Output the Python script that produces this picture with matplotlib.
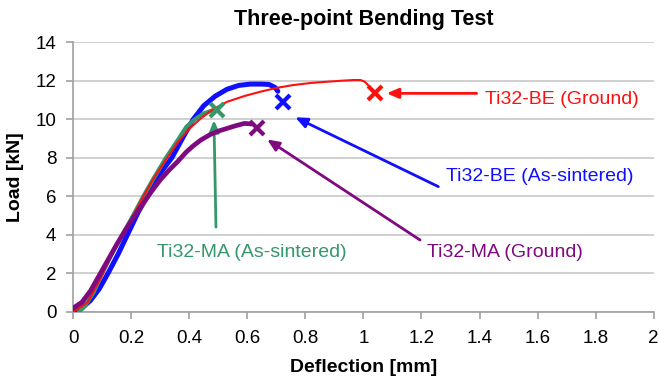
import matplotlib
matplotlib.use("Agg")
import matplotlib.pyplot as plt

plt.rcParams["font.family"] = ["Liberation Sans", "DejaVu Sans"]

# ── load / deflection curves ─────────────────────────────────────────────────
be_sint_x = [0.00, 0.03, 0.06, 0.09, 0.12, 0.155, 0.19, 0.225, 0.255, 0.29, 0.34,
             0.38, 0.414, 0.45, 0.49, 0.53, 0.57, 0.61, 0.65, 0.675, 0.695, 0.705]
be_sint_y = [0.00, 0.20, 0.60, 1.20, 2.00, 3.00, 4.10, 5.20, 6.00, 7.00, 8.00,
             9.10, 10.00, 10.70, 11.20, 11.55, 11.75, 11.82, 11.82, 11.80, 11.65, 11.45]

ma_sint_x = [0.02, 0.04, 0.07, 0.10, 0.14, 0.17, 0.21, 0.242, 0.28, 0.32, 0.36,
             0.39, 0.42, 0.45, 0.48, 0.495]
ma_sint_y = [0.00, 0.30, 1.00, 2.00, 3.20, 4.00, 5.10, 6.00, 7.00, 8.00, 8.90,
             9.60, 10.00, 10.30, 10.45, 10.50]

be_grnd_x = [0.00, 0.05, 0.10, 0.14, 0.17, 0.21, 0.242, 0.28, 0.32, 0.36, 0.40,
             0.437, 0.48, 0.53, 0.59, 0.644, 0.70, 0.758, 0.82, 0.873, 0.93,
             0.965, 0.99, 1.005, 1.02]
be_grnd_y = [0.00, 0.50, 1.90, 3.20, 4.00, 5.10, 6.00, 7.00, 7.90, 8.80, 9.50,
             10.00, 10.50, 10.90, 11.20, 11.42, 11.62, 11.77, 11.88, 11.94, 12.00,
             12.03, 12.03, 11.94, 11.70]

ma_grnd_x = [0.00, 0.03, 0.06, 0.09, 0.12, 0.15, 0.18, 0.21, 0.24, 0.27, 0.30,
             0.33, 0.36, 0.39, 0.414, 0.44, 0.472, 0.50, 0.53, 0.56, 0.59, 0.615]
ma_grnd_y = [0.20, 0.50, 1.10, 1.90, 2.70, 3.50, 4.25, 4.95, 5.60, 6.25, 6.85,
             7.35, 7.80, 8.30, 8.62, 8.92, 9.20, 9.38, 9.52, 9.66, 9.78, 9.75]

# fracture points (x markers)
frac_x = [1.04, 0.724, 0.495, 0.632]
frac_y = [11.34, 10.90, 10.47, 9.52]

labels = ["Ti32-BE (Ground)", "Ti32-BE (As-sintered)",
          "Ti32-MA (As-sintered)", "Ti32-MA (Ground)"]
colors = ["#ff1010", "#1010ff", "#35976c", "#7f0a7f"]

# arrow tail / head and label anchor per sample
arrow_tail = [(1.39, 11.34), (1.258, 6.5), (0.492, 4.4), (1.195, 3.73)]
arrow_head = [(1.08, 11.34), (0.765, 10.1), (0.485, 9.95), (0.668, 8.95)]
text_pos = [(1.42, 11.0), (1.285, 7.0), (0.288, 3.1), (1.218, 3.1)]

fig, ax = plt.subplots(figsize=(6.59, 3.79), dpi=100)
fig.subplots_adjust(left=0.111, right=0.992, bottom=0.177, top=0.889)

ax.plot(be_sint_x, be_sint_y, color=colors[1], lw=3.6, solid_capstyle="round", zorder=3)
ax.plot(ma_sint_x, ma_sint_y, color=colors[2], lw=3.0, solid_capstyle="round", zorder=4)
ax.plot(be_grnd_x, be_grnd_y, color=colors[0], lw=1.5, zorder=5)
ax.plot(ma_grnd_x, ma_grnd_y, color=colors[3], lw=3.4, solid_capstyle="round", zorder=6)

for i in range(4):
    ax.plot(frac_x[i], frac_y[i], marker="x", ms=10, mew=3, color=colors[i], zorder=7)
    ax.annotate("", xy=arrow_head[i], xytext=arrow_tail[i],
                arrowprops=dict(arrowstyle="-|>,head_length=0.7,head_width=0.3",
                                color=colors[i], lw=2, shrinkA=0, shrinkB=0))
    ax.text(text_pos[i][0], text_pos[i][1], labels[i], color=colors[i],
            fontsize=14, va="center", ha="left")

ax.set_xlim(0, 2)
ax.set_ylim(0, 14)
ax.set_xticks([0, 0.2, 0.4, 0.6, 0.8, 1, 1.2, 1.4, 1.6, 1.8, 2])
ax.set_xticklabels(["0", "0.2", "0.4", "0.6", "0.8", "1", "1.2", "1.4", "1.6", "1.8", "2"])
ax.set_yticks(range(0, 15, 2))
ax.tick_params(labelsize=13.5, color="#a0a0a0", length=5, width=1.2)
ax.tick_params(axis="x", pad=8)
ax.tick_params(axis="y", pad=7)
ax.yaxis.grid(True, color="#c8c8c8", lw=1.2)
ax.set_axisbelow(True)
for side in ["top", "right"]:
    ax.spines[side].set_visible(False)
for side in ["left", "bottom"]:
    ax.spines[side].set_color("#a0a0a0")
    ax.spines[side].set_linewidth(1.2)

ax.set_title("Three-point Bending Test", fontsize=15.5, fontweight="bold", pad=12)
ax.set_xlabel("Deflection [mm]", fontsize=14, fontweight="bold")
ax.set_ylabel("Load [kN]", fontsize=14, fontweight="bold")
ax.xaxis.set_label_coords(0.5, -0.175)
ax.yaxis.set_label_coords(-0.085, 0.5)

fig.savefig("out.png", dpi=100)
